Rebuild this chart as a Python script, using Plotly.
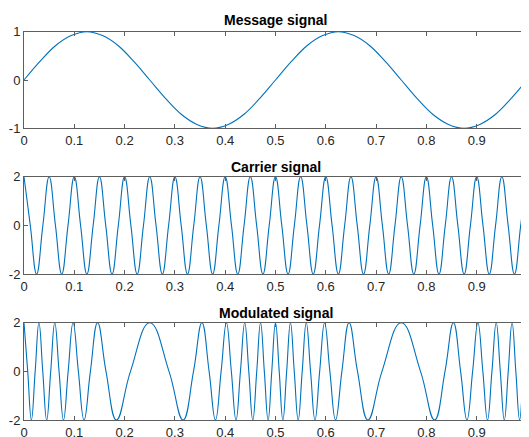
import plotly.graph_objects as go

# ---------------- data ----------------
x_ticks = [0, 0.1, 0.2, 0.3, 0.4, 0.5, 0.6, 0.7, 0.8, 0.9, 1]
x_tick_labels = ["0", "0.1", "0.2", "0.3", "0.4", "0.5", "0.6", "0.7", "0.8", "0.9", "1"]

titles = ["Message signal", "Carrier signal", "Modulated signal"]

message_t = [0.0, 0.03125, 0.0625, 0.09375, 0.125, 0.15625, 0.1875, 0.21875, 0.25,
             0.28125, 0.3125, 0.34375, 0.375, 0.40625, 0.4375, 0.46875, 0.5,
             0.53125, 0.5625, 0.59375, 0.625, 0.65625, 0.6875, 0.71875, 0.75,
             0.78125, 0.8125, 0.84375, 0.875, 0.90625, 0.9375, 0.96875, 1.0]
message_y = [0, 0.38, 0.71, 0.92, 1, 0.92, 0.71, 0.38, 0,
             -0.38, -0.71, -0.92, -1, -0.92, -0.71, -0.38, 0,
             0.38, 0.71, 0.92, 1, 0.92, 0.71, 0.38, 0,
             -0.38, -0.71, -0.92, -1, -0.92, -0.71, -0.38, 0]
message_yticks = [-1, 0, 1]

carrier_t = [0.0, 0.0125, 0.025, 0.0375, 0.05, 0.0625, 0.075, 0.0875, 0.1, 0.1125,
             0.125, 0.1375, 0.15, 0.1625, 0.175, 0.1875, 0.2, 0.2125, 0.225, 0.2375,
             0.25, 0.2625, 0.275, 0.2875, 0.3, 0.3125, 0.325, 0.3375, 0.35, 0.3625,
             0.375, 0.3875, 0.4, 0.4125, 0.425, 0.4375, 0.45, 0.4625, 0.475, 0.4875,
             0.5, 0.5125, 0.525, 0.5375, 0.55, 0.5625, 0.575, 0.5875, 0.6, 0.6125,
             0.625, 0.6375, 0.65, 0.6625, 0.675, 0.6875, 0.7, 0.7125, 0.725, 0.7375,
             0.75, 0.7625, 0.775, 0.7875, 0.8, 0.8125, 0.825, 0.8375, 0.85, 0.8625,
             0.875, 0.8875, 0.9, 0.9125, 0.925, 0.9375, 0.95, 0.9625, 0.975, 0.9875,
             1.0]
carrier_y = [2, 0, -2, 0, 2, 0, -2, 0, 2, 0, -2, 0, 2, 0, -2, 0, 2, 0, -2, 0,
             2, 0, -2, 0, 2, 0, -2, 0, 2, 0, -2, 0, 2, 0, -2, 0, 2, 0, -2, 0,
             2, 0, -2, 0, 2, 0, -2, 0, 2, 0, -2, 0, 2, 0, -2, 0, 2, 0, -2, 0,
             2, 0, -2, 0, 2, 0, -2, 0, 2, 0, -2, 0, 2, 0, -2, 0, 2, 0, -2, 0,
             2]
carrier_yticks = [-2, 0, 2]

modulated_t = [0.0, 0.0074, 0.0147, 0.0222, 0.0297, 0.0373, 0.0451, 0.0531, 0.0612, 0.0697,
               0.0785, 0.0878, 0.0976, 0.1081, 0.1194, 0.1320, 0.1463, 0.1630, 0.1838, 0.2117,
               0.25, 0.2883, 0.3162, 0.3370, 0.3537, 0.3680, 0.3806, 0.3919, 0.4024, 0.4122,
               0.4215, 0.4303, 0.4388, 0.4469, 0.4549, 0.4627, 0.4703, 0.4778, 0.4853, 0.4926,
               0.5, 0.5074, 0.5147, 0.5222, 0.5297, 0.5373, 0.5451, 0.5531, 0.5612, 0.5697,
               0.5785, 0.5878, 0.5976, 0.6081, 0.6194, 0.6320, 0.6463, 0.6630, 0.6838, 0.7117,
               0.75, 0.7883, 0.8162, 0.8370, 0.8537, 0.8680, 0.8806, 0.8919, 0.9024, 0.9122,
               0.9215, 0.9303, 0.9388, 0.9469, 0.9549, 0.9627, 0.9703, 0.9778, 0.9853, 0.9926,
               1.0]
modulated_y = [2, 0, -2, 0, 2, 0, -2, 0, 2, 0, -2, 0, 2, 0, -2, 0, 2, 0, -2, 0,
               2, 0, -2, 0, 2, 0, -2, 0, 2, 0, -2, 0, 2, 0, -2, 0, 2, 0, -2, 0,
               2, 0, -2, 0, 2, 0, -2, 0, 2, 0, -2, 0, 2, 0, -2, 0, 2, 0, -2, 0,
               2, 0, -2, 0, 2, 0, -2, 0, 2, 0, -2, 0, 2, 0, -2, 0, 2, 0, -2, 0,
               2]
modulated_yticks = [-2, 0, 2]

# ---------------- figure ----------------
OFF = 8  # page body margin
W, H = 529 - OFF, 437 - OFF
LINE = "#0072BD"
AX = "#5e5e5e"
TXT = "#262626"
FONT = "Liberation Sans, Arial, Helvetica, sans-serif"

x_dom = [(24 - OFF) / W, (527 - OFF) / W]
# panel pixel extents in the window (top, bottom)
panels = [(31.7, 128.3), (176.7, 274.0), (322.7, 420.0)]
title_y = [19.5, 167.0, 313.0]

series = [(message_t, message_y, message_yticks, 1.0),
          (carrier_t, carrier_y, carrier_yticks, 1.3),
          (modulated_t, modulated_y, modulated_yticks, 1.3)]

fig = go.Figure()
for i, ((t, y, yt, sm), (top, bot)) in enumerate(zip(series, panels)):
    n = "" if i == 0 else str(i + 1)
    fig.add_trace(go.Scatter(
        x=t, y=y, mode="lines",
        line=dict(color=LINE, width=1.1, shape="spline", smoothing=sm),
        xaxis="x" + n, yaxis="y" + n, showlegend=False, hoverinfo="skip"))
    common = dict(showline=True, linecolor=AX, linewidth=1, mirror="ticks",
                  ticks="inside", ticklen=4, tickwidth=1, tickcolor=AX,
                  showgrid=False, zeroline=False, automargin=False,
                  tickfont=dict(family=FONT, size=13, color=TXT))
    fig.layout["xaxis" + n] = dict(domain=x_dom, range=[0, 1], anchor="y" + n,
                                   tickvals=x_ticks, ticktext=x_tick_labels,
                                   ticklabeloverflow="allow", **common)
    fig.layout["yaxis" + n] = dict(domain=[1 - (bot - OFF) / H, 1 - (top - OFF) / H],
                                   range=[yt[0], yt[-1]],
                                   anchor="x" + n, tickvals=yt,
                                   ticktext=[str(v) for v in yt],
                                   ticklabeloverflow="allow", **common)
    fig.add_annotation(text="<b>" + titles[i] + "</b>", xref="paper", yref="paper",
                       x=(x_dom[0] + x_dom[1]) / 2, y=1 - (title_y[i] - OFF) / H,
                       xanchor="center", yanchor="middle", showarrow=False,
                       font=dict(family=FONT, size=14, color="#000000"))

fig.update_layout(width=W, height=H, margin=dict(l=0, r=0, t=0, b=0, pad=0),
                  paper_bgcolor="white", plot_bgcolor="white", template="none")

fig.write_html("out.html")
